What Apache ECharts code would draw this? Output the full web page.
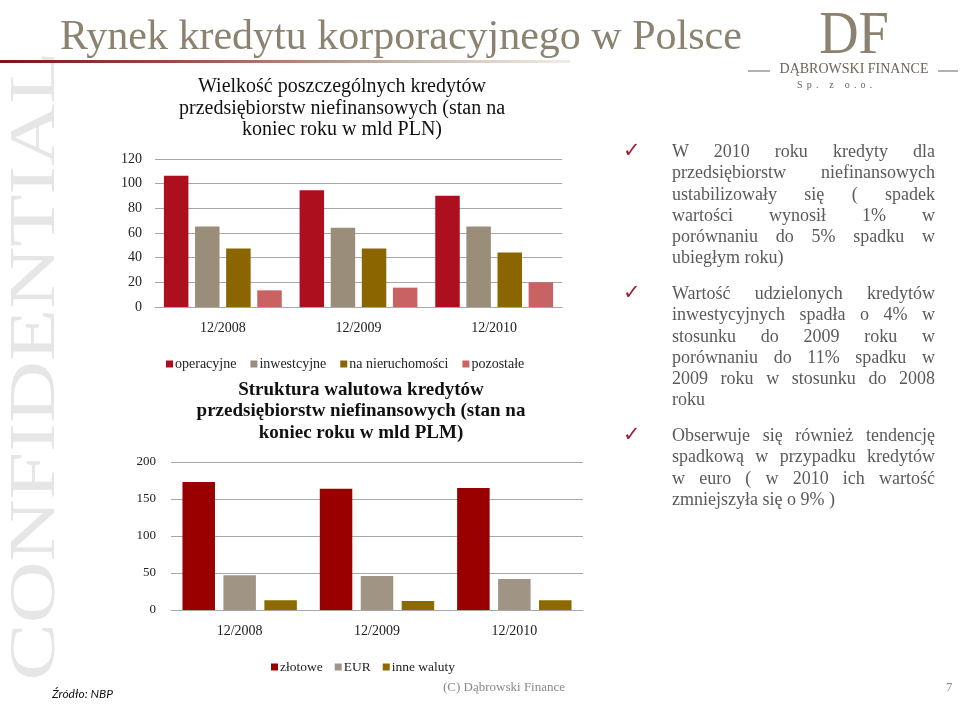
<!DOCTYPE html>
<html><head><meta charset="utf-8">
<script src="https://cdn.jsdelivr.net/npm/echarts@6/dist/echarts.min.js"></script>
<style>
html,body{margin:0;padding:0;background:#fff;}
#wrap{position:relative;width:960px;height:706px;overflow:hidden;}
#chart{position:absolute;left:0;top:0;width:960px;height:706px;}
.bul{position:absolute;left:672px;width:263px;font-family:'Liberation Serif',serif;font-size:18px;line-height:21.3px;color:#5a5a5a;}
.bul div{text-align:justify;text-align-last:justify;white-space:nowrap;}
.bul div.last{text-align:left;text-align-last:left;}
.chk{position:absolute;left:623px;font-family:'DejaVu Sans',sans-serif;font-size:21px;line-height:21px;color:#9b2335;}
.sp{position:absolute;left:797px;top:79px;font-family:'Liberation Serif',serif;font-size:10px;letter-spacing:4.2px;color:#6e6457;}
</style></head>
<body><div id="wrap"><div id="chart"></div>
<div class="sp">Sp. z o.o.</div>
<div class="chk" style="top:140px">✓</div>
<div class="bul" style="top:141px">
<div>W 2010 roku kredyty dla</div>
<div>przedsiębiorstw niefinansowych</div>
<div>ustabilizowały się ( spadek</div>
<div>wartości wynosił 1% w</div>
<div>porównaniu do 5% spadku w</div>
<div class="last">ubiegłym roku)</div>
</div>
<div class="chk" style="top:282px">✓</div>
<div class="bul" style="top:283px">
<div>Wartość udzielonych kredytów</div>
<div>inwestycyjnych spadła o 4% w</div>
<div>stosunku do 2009 roku w</div>
<div>porównaniu do 11% spadku w</div>
<div>2009 roku w stosunku do 2008</div>
<div class="last">roku</div>
</div>
<div class="chk" style="top:424px">✓</div>
<div class="bul" style="top:425px">
<div>Obserwuje się również tendencję</div>
<div>spadkową w przypadku kredytów</div>
<div>w euro ( w 2010 ich wartość</div>
<div class="last">zmniejszyła się o 9% )</div>
</div>
</div>
<script>
// ---- data ----
const categories = ['12/2008', '12/2009', '12/2010'];
const topSeriesNames = ['operacyjne', 'inwestcyjne', 'na nieruchomości', 'pozostałe'];
const operacyjne = [106.5, 94.6, 90.2];
const inwestcyjne = [65.3, 64.2, 65.3];
const nieruchomosci = [47.4, 47.4, 44.2];
const pozostale = [13.5, 15.7, 20.0];
const bottomSeriesNames = ['złotowe', 'EUR', 'inne waluty'];
const zlotowe = [173, 164, 165];
const eur = [46.8, 45.9, 41.9];
const inneWaluty = [13.1, 12.2, 13.1];
const topAxis = {min: 0, max: 120, interval: 20};
const bottomAxis = {min: 0, max: 200, interval: 50};

const serif = 'Liberation Serif';
const topColors = ['#ad0f1e', '#9a8e7b', '#8a6500', '#c96262'];
const bottomColors = ['#990000', '#a09585', '#8c6a00'];
const gridColor = '#a8a8a8';

const chart = echarts.init(document.getElementById('chart'), null, {renderer: 'canvas'});

function bar(name, data, color, axisIdx, width, gap) {
  return {
    name: name, type: 'bar', data: data, xAxisIndex: axisIdx, yAxisIndex: axisIdx,
    barWidth: width, barGap: gap, itemStyle: {color: color}, animation: false
  };
}

const xAxisCommon = {
  type: 'category', data: categories,
  axisLine: {lineStyle: {color: gridColor}}, axisTick: {show: false},
  axisLabel: {fontFamily: serif, fontSize: 14, color: '#222', margin: 14}
};
const yAxisCommon = {
  type: 'value', axisLine: {show: false}, axisTick: {show: false},
  splitLine: {lineStyle: {color: gridColor, width: 1}},
  axisLabel: {fontFamily: serif, fontSize: 14, color: '#222'}
};

const option = {
  animation: false,
  grid: [
    {left: 155, right: 398, top: 159, bottom: 399},
    {left: 171, right: 377, top: 462, bottom: 96}
  ],
  xAxis: [
    Object.assign({gridIndex: 0}, xAxisCommon),
    Object.assign({gridIndex: 1}, xAxisCommon)
  ],
  yAxis: [
    Object.assign({gridIndex: 0}, yAxisCommon, topAxis, {axisLabel: Object.assign({}, yAxisCommon.axisLabel, {margin: 13})}),
    Object.assign({gridIndex: 1}, yAxisCommon, bottomAxis, {axisLabel: Object.assign({}, yAxisCommon.axisLabel, {fontSize: 13, margin: 15})})
  ],
  legend: [
    {data: topSeriesNames, left: 161, top: 352, icon: 'rect', itemWidth: 7, itemHeight: 7, itemGap: 14,
     textStyle: {fontFamily: serif, fontSize: 14, color: '#222', padding: [0, 0, 0, -3]}},
    {data: bottomSeriesNames, left: 266, top: 655, icon: 'rect', itemWidth: 7, itemHeight: 7, itemGap: 12,
     textStyle: {fontFamily: serif, fontSize: 13.5, color: '#222', padding: [0, 0, 0, -3]}}
  ],
  series: [
    bar(topSeriesNames[0], operacyjne, topColors[0], 0, 24.5, '27%'),
    bar(topSeriesNames[1], inwestcyjne, topColors[1], 0, 24.5, '27%'),
    bar(topSeriesNames[2], nieruchomosci, topColors[2], 0, 24.5, '27%'),
    bar(topSeriesNames[3], pozostale, topColors[3], 0, 24.5, '27%'),
    bar(bottomSeriesNames[0], zlotowe, bottomColors[0], 1, 32.5, '26%'),
    bar(bottomSeriesNames[1], eur, bottomColors[1], 1, 32.5, '26%'),
    bar(bottomSeriesNames[2], inneWaluty, bottomColors[2], 1, 32.5, '26%')
  ],
  graphic: [
    // watermark
    {type: 'text', z: -10, x: 37, y: 366, rotation: Math.PI / 2, scaleX: 1.3,
     style: {text: 'CONFIDENTIAL', font: '66px "Liberation Serif"', fill: '#e6e6e6', textAlign: 'center', textVerticalAlign: 'middle'}},
    // main title
    {type: 'text', x: 60, y: 59, style: {text: 'Rynek kredytu korporacyjnego w Polsce', font: '42px "Liberation Serif"', fill: '#8c8270', textVerticalAlign: 'bottom'}},
    {type: 'rect', shape: {x: 0, y: 60, width: 570, height: 3},
     style: {fill: new echarts.graphic.LinearGradient(0, 0, 1, 0, [
       {offset: 0, color: '#7a1414'}, {offset: 0.3, color: '#9a4a40'}, {offset: 0.7, color: '#c4b6a8'}, {offset: 1, color: '#f0ece8'}])}},
    // logo
    {type: 'text', x: 854, y: 68, scaleX: 0.88, style: {text: 'DF', font: '62px "Liberation Serif"', fill: '#8c8270', textAlign: 'center', textVerticalAlign: 'bottom'}},
    {type: 'text', x: 854, y: 69, style: {text: 'DĄBROWSKI FINANCE', font: '14px "Liberation Serif"', fill: '#6e6457', textAlign: 'center', textVerticalAlign: 'middle'}},
    {type: 'line', shape: {x1: 748, y1: 71, x2: 770, y2: 71}, style: {stroke: '#6e6457', lineWidth: 1}},
    {type: 'line', shape: {x1: 938, y1: 71, x2: 958, y2: 71}, style: {stroke: '#6e6457', lineWidth: 1}},
    // chart titles
    {type: 'text', x: 342, y: 76, style: {text: 'Wielkość poszczególnych kredytów\nprzedsiębiorstw niefinansowych (stan na\nkoniec roku w mld PLN)',
      font: '20px "Liberation Serif"', lineHeight: 21.5, fill: '#111', textAlign: 'center', textVerticalAlign: 'top'}},
    {type: 'text', x: 361, y: 379, style: {text: 'Struktura walutowa kredytów\nprzedsiębiorstw niefinansowych (stan na\nkoniec roku w mld PLM)',
      font: 'bold 19px "Liberation Serif"', lineHeight: 21.5, fill: '#111', textAlign: 'center', textVerticalAlign: 'top'}},
    // footer
    {type: 'text', x: 52, y: 694, style: {text: 'Źródło: NBP', font: 'italic 12px Lato', fill: '#111', textVerticalAlign: 'middle'}},
    {type: 'text', x: 443, y: 688, style: {text: '(C) Dąbrowski Finance', font: '13px "Liberation Serif"', fill: '#8a8a8a', textVerticalAlign: 'middle'}},
    {type: 'text', x: 946, y: 688, style: {text: '7', font: '13px "Liberation Serif"', fill: '#8a8a8a', textVerticalAlign: 'middle'}}
  ]
};
chart.setOption(option);
</script>
</body></html>
